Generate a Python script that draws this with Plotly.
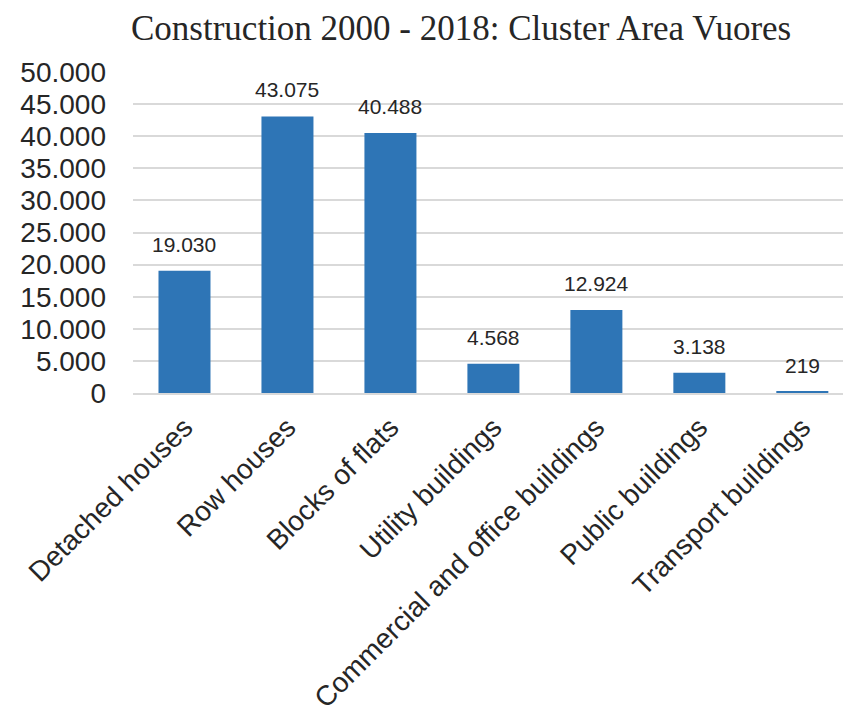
import plotly.graph_objects as go

categories = [
    "Detached houses",
    "Row houses",
    "Blocks of flats",
    "Utility buildings",
    "Commercial and office buildings",
    "Public buildings",
    "Transport buildings",
]
values = [19030, 43075, 40488, 4568, 12924, 3138, 219]
value_labels = ["19.030", "43.075", "40.488", "4.568", "12.924", "3.138", "219"]
y_ticks = [0, 5000, 10000, 15000, 20000, 25000, 30000, 35000, 40000, 45000, 50000]
y_tick_labels = ["0", "5.000", "10.000", "15.000", "20.000", "25.000",
                 "30.000", "35.000", "40.000", "45.000", "50.000"]

fig = go.Figure(
    go.Bar(
        x=categories,
        y=values,
        width=0.505,
        marker=dict(color="#2E75B6", line=dict(width=0)),
        hoverinfo="x+y",
    )
)

# value labels above each bar
for cat, val, lab in zip(categories, values, value_labels):
    fig.add_annotation(
        x=cat,
        y=val,
        text=lab,
        showarrow=False,
        yanchor="bottom",
        yshift=13,
        font=dict(family="Arial, Liberation Sans", size=21, color="#262626"),
    )

fig.update_layout(
    width=843,
    height=724,
    paper_bgcolor="white",
    plot_bgcolor="white",
    margin=dict(l=133, r=0, t=72, b=331),
    showlegend=False,
    title=dict(
        text="Construction 2000 - 2018: Cluster Area Vuores",
        font=dict(family="Liberation Serif, Times New Roman", size=35, color="#262626"),
        x=0.547,
        xanchor="center",
        y=0.962,
        yanchor="middle",
    ),
)

fig.update_xaxes(
    range=[-0.5, 6.395],
    tickangle=-45,
    tickfont=dict(family="Arial, Liberation Sans", size=28, color="#262626"),
    showline=True,
    linecolor="#D9D9D9",
    linewidth=1.5,
    ticks="",
    ticklabelstandoff=5,
    automargin=False,
)

fig.update_yaxes(
    range=[0, 50000],
    tickvals=y_ticks,
    ticktext=y_tick_labels,
    tickfont=dict(family="Arial, Liberation Sans", size=28, color="#262626"),
    showgrid=True,
    gridcolor="#D9D9D9",
    gridwidth=1.5,
    zeroline=False,
    ticks="",
    ticklabelstandoff=26,
    automargin=False,
)

fig.write_html("out.html")
